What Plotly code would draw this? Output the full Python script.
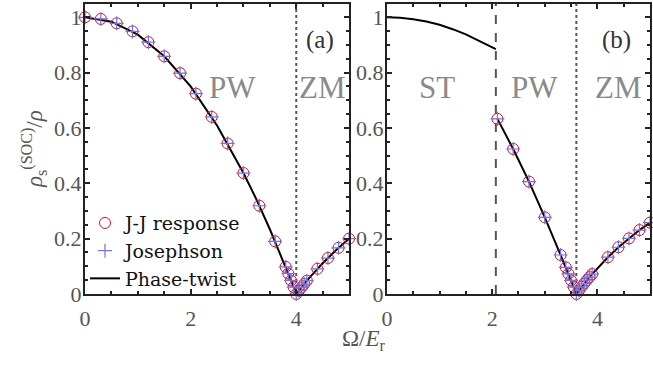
import plotly.graph_objects as go

# ---------------- data ----------------
# Panel (a)
xa_pts = [0, 0.3, 0.6, 0.9, 1.2, 1.5, 1.8, 2.1, 2.4, 2.7, 3.0, 3.3, 3.6, 3.8, 3.85, 3.9, 3.95,
          4.0, 4.05, 4.1, 4.15, 4.2, 4.4, 4.6, 4.8, 5.0]
ya_jj = [1.0, 0.994, 0.978, 0.949, 0.91, 0.859, 0.798, 0.724, 0.64, 0.544, 0.437, 0.319, 0.19,
         0.098, 0.074, 0.049, 0.025, 0.0, 0.012, 0.024, 0.036, 0.048, 0.091, 0.13, 0.167, 0.2]
ya_jos = [1.0, 0.994, 0.978, 0.949, 0.91, 0.859, 0.798, 0.724, 0.64, 0.544, 0.437, 0.319, 0.19,
          0.098, 0.074, 0.049, 0.025, 0.0, 0.012, 0.024, 0.036, 0.048, 0.091, 0.13, 0.167, 0.2]
xa_line = [0, 0.5, 1.0, 1.5, 2.0, 2.5, 3.0, 3.25, 3.5, 3.75, 3.9, 4.0, 4.25, 4.5, 4.75, 5.0]
ya_line = [1.0, 0.984, 0.937, 0.859, 0.75, 0.609, 0.437, 0.340, 0.234, 0.121, 0.049, 0.0,
           0.059, 0.111, 0.158, 0.2]
a_zm_boundary = 4.0

# Panel (b)
xb_pts = [2.1, 2.4, 2.7, 3.0, 3.3, 3.4, 3.45, 3.5, 3.55, 3.6,
          3.65, 3.7, 3.75, 3.8, 3.85, 3.9, 4.2, 4.4, 4.6, 4.8, 5.0]
yb_jj = [0.633, 0.524, 0.406, 0.277, 0.141, 0.096, 0.073, 0.049, 0.025, 0.0,
         0.013, 0.026, 0.038, 0.05, 0.061, 0.072, 0.133, 0.169, 0.201, 0.231, 0.258]
yb_jos = [0.633, 0.524, 0.406, 0.277, 0.141, 0.096, 0.073, 0.049, 0.025, 0.0,
          0.013, 0.026, 0.038, 0.05, 0.061, 0.072, 0.133, 0.169, 0.201, 0.231, 0.258]
xb_st = [0, 0.25, 0.5, 0.75, 1.0, 1.25, 1.5, 1.75, 2.07]
yb_st = [1.0, 0.998, 0.993, 0.985, 0.973, 0.957, 0.938, 0.915, 0.885]
xb_line = [2.1, 2.4, 2.7, 3.0, 3.3, 3.6, 3.9, 4.2, 4.4, 4.6, 4.8, 5.0]
yb_line = [0.633, 0.524, 0.406, 0.277, 0.141, 0.0, 0.072, 0.133, 0.169, 0.201, 0.231, 0.258]
b_st_boundary = 2.07
b_zm_boundary = 3.6

x_ticks = [0, 2, 4]
y_ticks = [0, 0.2, 0.4, 0.6, 0.8, 1]

# -------------- styling --------------
FONT = "Liberation Serif, DejaVu Serif, serif"
LEGFONT = "DejaVu Serif, Liberation Serif, serif"
RED = "#d0103a"
BLUE = "#7474dc"
AXC = "#222222"
TICKC = "#555555"
PHASEC = "#8a8a8a"

fig = go.Figure()

def add_panel(xp, yjj, yjos, xl, yl, xa, ya, show):
    fig.add_trace(go.Scatter(x=xl, y=yl, mode="lines", line=dict(color="black", width=2),
                             name="Phase-twist", xaxis=xa, yaxis=ya, showlegend=False,
                             cliponaxis=False))
    fig.add_trace(go.Scatter(x=xp, y=yjj, mode="markers", name="J-J response",
                             marker=dict(symbol="circle-open", size=11, color=RED,
                                         line=dict(width=1, color=RED)),
                             xaxis=xa, yaxis=ya, showlegend=show, cliponaxis=False,
                             legendrank=1))
    fig.add_trace(go.Scatter(x=xp, y=yjos, mode="markers", name="Josephson",
                             marker=dict(symbol="cross-thin-open", size=10, color=BLUE,
                                         line=dict(width=1.2, color=BLUE)),
                             xaxis=xa, yaxis=ya, showlegend=show, cliponaxis=False,
                             legendrank=2))

add_panel(xa_pts, ya_jj, ya_jos, xa_line, ya_line, "x", "y", True)
fig.add_trace(go.Scatter(x=[None], y=[None], mode="lines", line=dict(color="black", width=2),
                         name="Phase-twist", xaxis="x", yaxis="y", legendrank=3))
add_panel(xb_pts, yb_jj, yb_jos, xb_line, yb_line, "x2", "y2", False)
fig.add_trace(go.Scatter(x=xb_st, y=yb_st, mode="lines", line=dict(color="black", width=2),
                         xaxis="x2", yaxis="y2", showlegend=False))

axis_common = dict(
    showline=True, linewidth=2, linecolor=AXC, mirror="ticks",
    ticks="inside", ticklen=5, tickwidth=1.5, tickcolor=AXC,
    showgrid=False, zeroline=False,
    tickfont=dict(family=FONT, size=22, color=TICKC),
)
xminor = dict(dtick=0.5, ticks="inside", ticklen=3, tickcolor=AXC)
yminor = dict(dtick=0.05, ticks="inside", ticklen=3, tickcolor=AXC)
l_dom = [0, 0.4674]
r_dom = [0.5344, 1]
fig.update_layout(
    width=653, height=367,
    margin=dict(l=85, r=1, t=4, b=73),
    plot_bgcolor="white", paper_bgcolor="white",
    font=dict(family=FONT, color=AXC),
    xaxis=dict(domain=l_dom, range=[0, 5], tickvals=x_ticks, anchor="y",
               ticklabelstandoff=4, minor=xminor, **axis_common),
    yaxis=dict(domain=[0, 1], range=[0, 1.048], tickvals=y_ticks, anchor="x",
               ticklabelstandoff=-3, minor=yminor, **axis_common),
    xaxis2=dict(domain=r_dom, range=[0, 5], tickvals=x_ticks, anchor="y2",
                ticklabelstandoff=4, minor=xminor, **axis_common),
    yaxis2=dict(domain=[0, 1], range=[0, 1.048], tickvals=y_ticks, anchor="x2",
                ticklabelstandoff=-3, minor=yminor, **axis_common),
    legend=dict(x=0.0, y=0.31, xanchor="left", yanchor="top", bgcolor="rgba(0,0,0,0)",
                font=dict(family=LEGFONT, size=19, color="#111"), tracegroupgap=0,
                itemwidth=30),
    showlegend=True,
)

fig.add_shape(type="line", xref="x", yref="y domain", x0=a_zm_boundary, x1=a_zm_boundary,
              y0=0, y1=1, line=dict(color="#555", width=2, dash="dot"), layer="below")
fig.add_shape(type="line", xref="x2", yref="y2 domain", x0=b_zm_boundary, x1=b_zm_boundary,
              y0=0, y1=1, line=dict(color="#555", width=2, dash="dot"), layer="below")
fig.add_shape(type="line", xref="x2", yref="y2 domain", x0=b_st_boundary, x1=b_st_boundary,
              y0=0, y1=1, line=dict(color="#555", width=2, dash="dash"), layer="below")

def txt(x, y, s, xr, yr, size, color):
    fig.add_annotation(x=x, y=y, xref=xr, yref=yr, text=s, showarrow=False,
                       xanchor="center", yanchor="middle",
                       font=dict(family=FONT, size=size, color=color))

txt(2.8, 0.745, "PW", "x", "y", 31, PHASEC)
txt(4.49, 0.745, "ZM", "x", "y", 31, PHASEC)
txt(4.44, 0.917, "(a)", "x", "y", 25, "#333")
txt(0.95, 0.745, "ST", "x2", "y2", 31, PHASEC)
txt(2.81, 0.745, "PW", "x2", "y2", 31, PHASEC)
txt(4.41, 0.745, "ZM", "x2", "y2", 31, PHASEC)
txt(4.37, 0.917, "(b)", "x2", "y2", 25, "#333")

fig.add_annotation(x=0.494, y=-0.158, xref="paper", yref="paper",
                   xanchor="center", yanchor="middle",
                   text="Ω/<i>E</i><sub>r</sub>", showarrow=False,
                   font=dict(family=FONT, size=23, color=TICKC))
fig.add_annotation(x=-0.092, y=0.5, xref="paper", yref="paper", textangle=-90,
                   xanchor="center", yanchor="middle",
                   text="<i>ρ</i><sub>s</sub><sup>(SOC)</sup>/<i>ρ</i>", showarrow=False,
                   font=dict(family=FONT, size=23, color=TICKC))

fig.write_html("out.html", config={"displayModeBar": False},
               post_script="document.body.style.margin='0';document.body.style.padding='0';"
                           "document.body.style.overflow='hidden';")
